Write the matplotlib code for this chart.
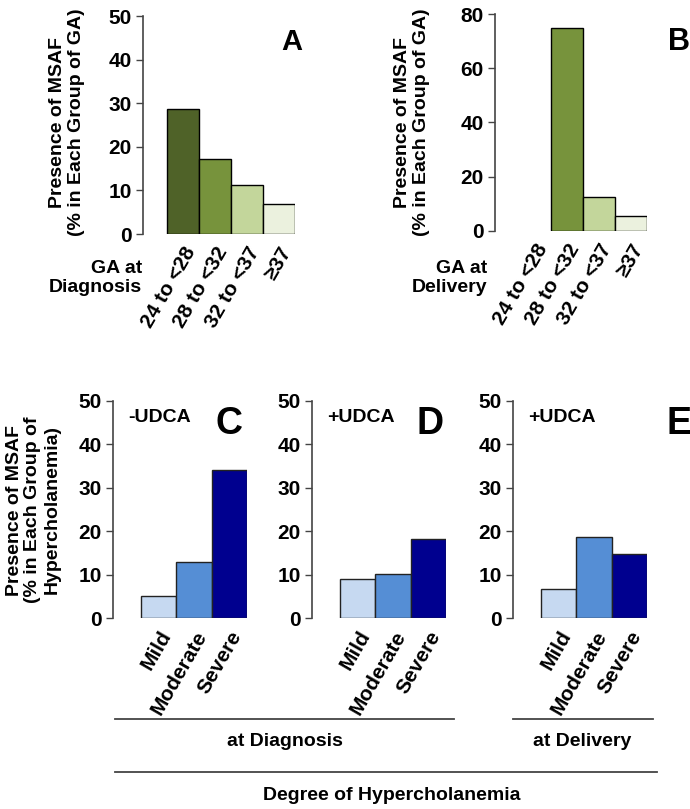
import matplotlib
matplotlib.use("Agg")
import matplotlib.pyplot as plt
from matplotlib.lines import Line2D

plt.rcParams['font.family'] = ['Liberation Sans', 'DejaVu Sans']
plt.rcParams['font.weight'] = 'bold'

# ---- data ----
ga_labels = ["24 to <28", "28 to <32", "32 to <37", "\u226537"]
msaf_ga_diagnosis = [28.7, 17.2, 11.2, 6.8]
msaf_ga_delivery = [0.0, 75.0, 12.7, 5.6]
green_colors = ["#4F6228", "#77933C", "#C3D69B", "#EBF1DE"]

hyper_labels = ["Mild", "Moderate", "Severe"]
msaf_noudca_diag = [5.0, 13.0, 34.2]
msaf_udca_diag = [9.1, 10.2, 18.2]
msaf_udca_deliv = [6.6, 18.6, 14.8]
blue_colors = ["#C6D9F1", "#558ED5", "#00008F"]

W, H = 690, 809
fig = plt.figure(figsize=(W / 100, H / 100), dpi=100)

def add_ax(left, right, top, bottom):
    return fig.add_axes([left / W, 1 - bottom / H, (right - left) / W, (bottom - top) / H])

def style(ax, yticks, ymax):
    ax.set_ylim(0, ymax)
    ax.set_yticks(yticks)
    for s in ["top", "right", "bottom"]:
        ax.spines[s].set_visible(False)
    ax.spines["left"].set_color("#444444")
    ax.spines["left"].set_linewidth(1.2)
    ax.tick_params(axis="y", length=5, width=1.0, color="#444444", labelsize=15, pad=3)
    ax.tick_params(axis="x", length=0, pad=7)
    ax.patch.set_visible(False)

def xlabels(ax, labels, size):
    ax.set_xticks(range(len(labels)))
    ax.set_xticklabels(labels, rotation=60, ha="right", va="top",
                       rotation_mode="anchor", fontsize=size, fontweight="bold")

# ---- Panel A ----
axA = add_ax(143, 295, 16, 234)
axA.bar(range(4), msaf_ga_diagnosis, width=1.0, color=green_colors,
        edgecolor="black", linewidth=1.0)
axA.set_xlim(-1.25, 3.5)
style(axA, [0, 10, 20, 30, 40, 50], 50)
xlabels(axA, ga_labels, 15)
fig.text(67 / W, 1 - 122 / H, "Presence of MSAF\n(% in Each Group of GA)", rotation=90,
         ha="center", va="center", fontsize=14, fontweight="bold", linespacing=1.1)
fig.text(142 / W, 1 - 278 / H, "GA at\nDiagnosis", ha="right", va="center",
         fontsize=14, fontweight="bold", linespacing=1.15, multialignment="right")
fig.text(292 / W, 1 - 42 / H, "A", ha="center", va="center", fontsize=21, fontweight="bold")

# ---- Panel B ----
axB = add_ax(495, 647, 14, 231)
axB.bar(range(4), msaf_ga_delivery, width=1.0, color=green_colors,
        edgecolor=["none", "black", "black", "black"], linewidth=1.0)
axB.set_xlim(-1.25, 3.5)
style(axB, [0, 20, 40, 60, 80], 80)
xlabels(axB, ga_labels, 15)
fig.text(412 / W, 1 - 122 / H, "Presence of MSAF\n(% in Each Group of GA)", rotation=90,
         ha="center", va="center", fontsize=14, fontweight="bold", linespacing=1.1)
fig.text(487 / W, 1 - 278 / H, "GA at\nDelivery", ha="right", va="center",
         fontsize=14, fontweight="bold", linespacing=1.15, multialignment="right")
fig.text(679 / W, 1 - 42 / H, "B", ha="center", va="center", fontsize=22, fontweight="bold")

# ---- Panels C, D, E ----
panels = [
    (113, msaf_noudca_diag, "-UDCA", "C", 229),
    (312, msaf_udca_diag, "+UDCA", "D", 430),
    (513, msaf_udca_deliv, "+UDCA", "E", 679),
]
for left, vals, tag, letter, lx in panels:
    ax = add_ax(left, left + 134, 401, 618)
    ax.bar(range(3), vals, width=1.0, color=blue_colors, edgecolor="#222222", linewidth=1.0)
    ax.set_xlim(-1.3, 2.5)
    style(ax, [0, 10, 20, 30, 40, 50], 50)
    xlabels(ax, hyper_labels, 15)
    fig.text((left + 15) / W, 1 - 418 / H, tag, ha="left", va="center",
             fontsize=14, fontweight="bold")
    fig.text(lx / W, 1 - 424 / H, letter, ha="center", va="center",
             fontsize=27, fontweight="bold")

fig.text(33 / W, 1 - 510 / H, "Presence of MSAF\n(% in Each Group of\nHypercholanemia)",
         rotation=90, ha="center", va="center", fontsize=14, fontweight="bold",
         linespacing=1.15)

# ---- grouping lines ----
lc = "#444444"
fig.add_artist(Line2D([115 / W, 454 / W], [1 - 719 / H] * 2, color=lc, lw=1.3))
fig.add_artist(Line2D([513 / W, 653 / W], [1 - 719 / H] * 2, color=lc, lw=1.3))
fig.add_artist(Line2D([115 / W, 657 / W], [1 - 772 / H] * 2, color=lc, lw=1.3))
fig.text(285 / W, 1 - 741 / H, "at Diagnosis", ha="center", va="center",
         fontsize=14, fontweight="bold")
fig.text(582 / W, 1 - 741 / H, "at Delivery", ha="center", va="center",
         fontsize=14, fontweight="bold")
fig.text(392 / W, 1 - 796 / H, "Degree of Hypercholanemia", ha="center", va="center",
         fontsize=14, fontweight="bold")

fig.savefig("out.png", dpi=100)
